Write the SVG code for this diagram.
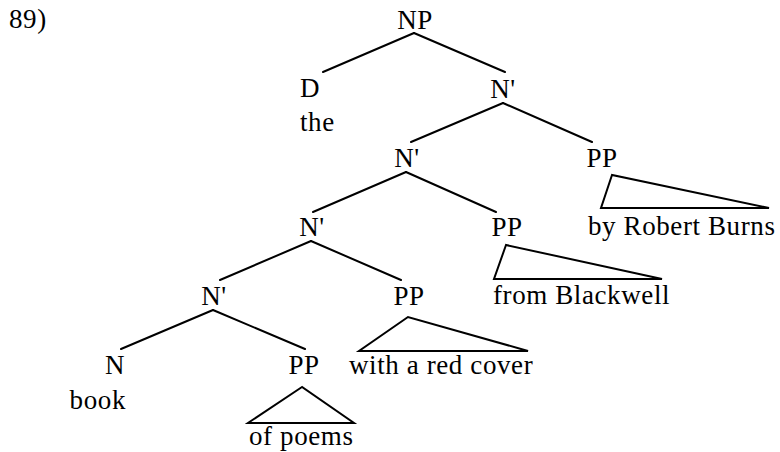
<svg xmlns="http://www.w3.org/2000/svg" width="780" height="452" viewBox="0 0 780 452">
<style>
text{font-family:"Liberation Serif","DejaVu Serif",serif;font-size:27px;letter-spacing:0.6px;fill:#000}
.m{text-anchor:middle}
.e{text-anchor:end}
line,polygon{stroke:#000;stroke-width:2;fill:none;stroke-linecap:round;stroke-linejoin:miter}
</style>
<rect width="780" height="452" fill="#fff"/>
<text x="9" y="28">89)</text>
<g id="connectors">
<line x1="414" y1="33" x2="323" y2="72"/>
<line x1="414" y1="33" x2="505" y2="72"/>
<line x1="503" y1="103" x2="411" y2="142"/>
<line x1="503" y1="103" x2="592" y2="142"/>
<line x1="406" y1="172" x2="313" y2="212"/>
<line x1="406" y1="172" x2="496" y2="212"/>
<line x1="311" y1="241" x2="220" y2="280"/>
<line x1="311" y1="241" x2="401" y2="280"/>
<line x1="213" y1="310" x2="121" y2="349"/>
<line x1="213" y1="310" x2="305" y2="349"/>
</g>
<g id="NP"><text class="m" x="415" y="29">NP</text></g>
<g id="D"><text x="300" y="97">D</text><text x="300" y="131">the</text></g>
<g id="Nbar1"><text class="m" x="503" y="98">N'</text></g>
<g id="Nbar2"><text class="m" x="407" y="167">N'</text></g>
<g id="PP1"><text class="m" x="602" y="167">PP</text>
<polygon points="612,175 601,208 769,208"/>
<text x="588" y="235">by Robert Burns</text></g>
<g id="Nbar3"><text class="m" x="312" y="236">N'</text></g>
<g id="PP2"><text class="m" x="507" y="236">PP</text>
<polygon points="506,245 494,279 662,279"/>
<text x="493" y="304">from Blackwell</text></g>
<g id="Nbar4"><text class="m" x="214" y="305">N'</text></g>
<g id="PP3"><text class="m" x="409" y="305">PP</text>
<polygon points="408,317 359,351 528,351"/>
<text x="349" y="374">with a red cover</text></g>
<g id="N"><text class="m" x="115" y="374">N</text><text class="e" x="126" y="409">book</text></g>
<g id="PP4"><text class="m" x="304" y="374">PP</text>
<polygon points="302,387 248,423 354,423"/>
<text x="249" y="445">of poems</text></g>
</svg>
